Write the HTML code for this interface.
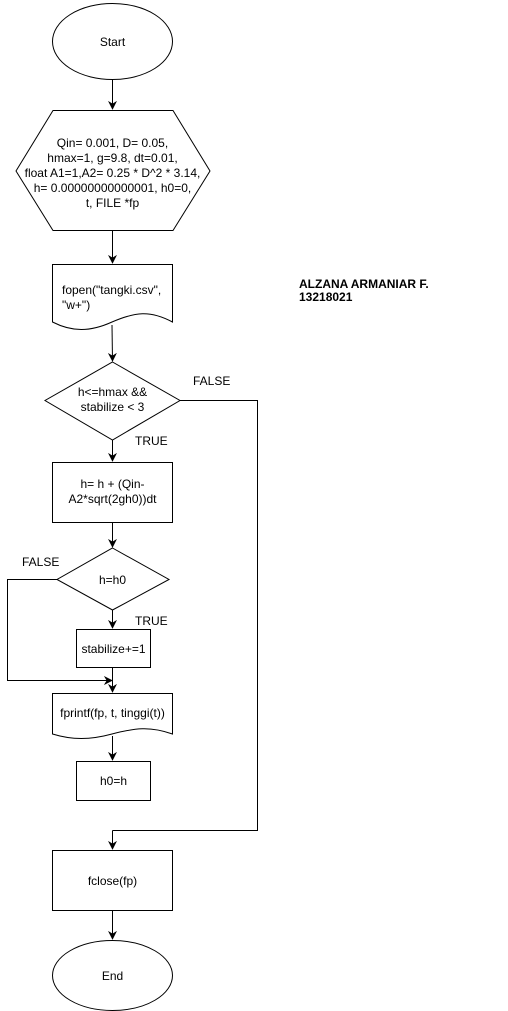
<!DOCTYPE html>
<html><head><meta charset="utf-8"><style>
html,body{margin:0;padding:0;background:#fff;}
svg{display:block;}
text{font-family:"Liberation Sans",Arial,sans-serif;font-size:12px;fill:#000;}
</style></head><body>
<svg width="508" height="1011" viewBox="0 0 508 1011" xmlns="http://www.w3.org/2000/svg">
<defs>
<marker id="a" viewBox="0 0 10 10" refX="9" refY="5" markerWidth="9" markerHeight="9" orient="auto" markerUnits="userSpaceOnUse">
<path d="M0,0 L10,5 L0,10 L3,5 Z" fill="#000"/>
</marker>
</defs>
<g fill="none" stroke="#000" stroke-width="1">
<ellipse cx="112.5" cy="41.5" rx="60" ry="38"/>
<line x1="112.5" y1="80" x2="112.5" y2="109" marker-end="url(#a)"/>
<polygon points="53,110.5 173,110.5 210,171 173,230.5 53,230.5 16,171"/>
<line x1="112.5" y1="230" x2="112.5" y2="263" marker-end="url(#a)"/>
<path d="M52.5,264.5 H172.5 V322 C150,310 135,312 112,322 C90,332 72,332 52.5,322 Z"/>
<line x1="112" y1="325" x2="112.5" y2="361" marker-end="url(#a)"/>
<polygon points="112.5,362 180,400.5 112.5,440 45,400.5"/>
<polyline points="180,400.5 257.5,400.5 257.5,830.5 112.5,830.5"/>
<line x1="112.5" y1="830.5" x2="112.5" y2="849" marker-end="url(#a)"/>
<line x1="112.5" y1="440" x2="112.5" y2="461" marker-end="url(#a)"/>
<rect x="52.5" y="462.5" width="120" height="60"/>
<line x1="112.5" y1="522.5" x2="112.5" y2="547" marker-end="url(#a)"/>
<polygon points="112.5,548 169,579.5 112.5,610 57,579.5"/>
<polyline points="57,579.5 7.5,579.5 7.5,680.5 112,680.5"/>
<line x1="100" y1="680.5" x2="112" y2="680.5" marker-end="url(#a)"/>
<line x1="112.5" y1="610" x2="112.5" y2="628" marker-end="url(#a)"/>
<rect x="76.5" y="629.5" width="74" height="38"/>
<line x1="112.5" y1="667.5" x2="112.5" y2="692" marker-end="url(#a)"/>
<path d="M52.5,693.5 H172.5 V734 C150,726 135,728 112,734 C90,740 72,740 52.5,734 Z"/>
<line x1="112.5" y1="736" x2="112.5" y2="760" marker-end="url(#a)"/>
<rect x="76.5" y="761.5" width="74" height="39"/>
<rect x="52.5" y="850.5" width="120" height="60"/>
<line x1="112.5" y1="910.5" x2="112.5" y2="939" marker-end="url(#a)"/>
<ellipse cx="112.5" cy="975.5" rx="60" ry="35"/>
</g>
<g text-anchor="middle">
<text x="112.5" y="46">Start</text>
<text x="112.5" y="147">Qin= 0.001, D= 0.05,</text>
<text x="112.5" y="162">hmax=1, g=9.8, dt=0.01,</text>
<text x="112.5" y="177">float A1=1,A2= 0.25 * D^2 * 3.14,</text>
<text x="112.5" y="192">h= 0.00000000000001, h0=0,</text>
<text x="112.5" y="207">t, FILE *fp</text>
<text x="112.5" y="396">h&lt;=hmax &amp;&amp;</text>
<text x="112.5" y="411">stabilize &lt; 3</text>
<text x="112.5" y="488">h= h + (Qin-</text>
<text x="112.5" y="503">A2*sqrt(2gh0))dt</text>
<text x="112.5" y="584">h=h0</text>
<text x="113.5" y="653">stabilize+=1</text>
<text x="113.5" y="785">h0=h</text>
<text x="112.5" y="885">fclose(fp)</text>
<text x="112.5" y="980">End</text>
<text x="112.5" y="717">fprintf(fp, t, tinggi(t))</text>
</g>
<text x="62" y="294">fopen("tangki.csv",</text>
<text x="62" y="309">"w+")</text>
<g style="font-size:10px">
<text x="193" y="385">FALSE</text>
<text x="135" y="445">TRUE</text>
<text x="22" y="566">FALSE</text>
<text x="135" y="625">TRUE</text>
</g>
<text x="299" y="288" style="font-weight:bold">ALZANA ARMANIAR F.</text>
<text x="299" y="301" style="font-weight:bold">13218021</text>
</svg>
</body></html>
